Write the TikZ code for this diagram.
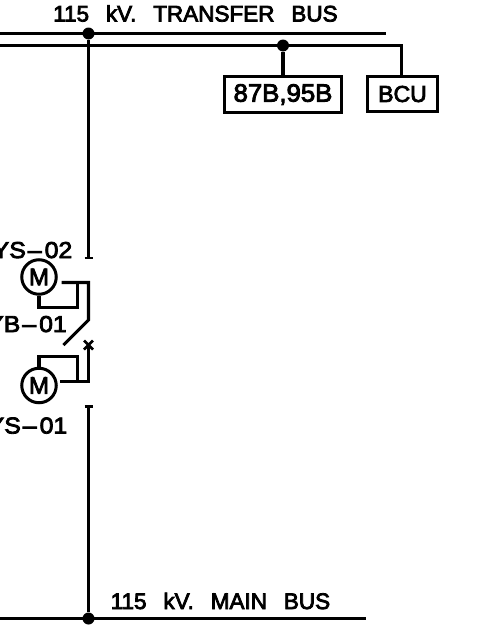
\documentclass[tikz,border=0pt]{standalone}
\usepackage{fontspec}
\setmainfont[FakeBold=3.5]{Liberation Sans}
\newfontfamily\busfont[WordSpace=2.7,FakeBold=3.5]{Liberation Sans}
\newfontfamily\tagfont[FakeStretch=1.08,FakeBold=3.5]{Liberation Sans}
\newfontfamily\boxfont[FakeStretch=1.03,FakeBold=3.5]{Liberation Sans}
\tikzset{
  wire/.style={line width=3.1pt,line cap=butt,line join=miter},
  tickln/.style={line width=2.4pt},
  dotn/.style={circle,fill=black,inner sep=0pt,minimum size=12pt},
  lbl/.style={inner sep=0pt,font=\tagfont\fontsize{23}{23}\selectfont},
  buslbl/.style={inner sep=0pt,font=\busfont\fontsize{22.5}{23}\selectfont},
  box/.style={draw,line width=3pt,inner sep=0pt},
  motor/.style={draw,circle,line width=3pt,minimum size=34.5pt,inner sep=0pt,font=\fontsize{24}{24}\selectfont}
}
\begin{document}
\begin{tikzpicture}[x=1pt,y=-1pt]
\useasboundingbox (0,0) rectangle (480,640);
\clip (0,0) rectangle (480,640);
\fill[white] (0,0) rectangle (480,640);
% free ends
\coordinate (t0) at (0,33.5); \coordinate (t1) at (386,33.5);
\coordinate (s0) at (0,45.5); \coordinate (s1) at (401.5,45.5);
\coordinate (m0) at (0,618.5); \coordinate (m1) at (366,618.5);
\coordinate (v1) at (88.5,258); \coordinate (v2) at (88.5,406.5);
\coordinate (cr) at (88.5,345);
\coordinate (pivot) at (88.5,320); \coordinate (blade) at (63.5,345);
% nodes
\node[dotn] (d1) at (88.5,33.5) {};
\node[dotn] (d2) at (283,45.5) {};
\node[dotn] (d3) at (88.5,618.5) {};
\node[box,minimum width=117pt,minimum height=36pt,font=\boxfont\fontsize{25}{25}\selectfont] (b1) at (283,94.5) {\raisebox{2pt}{87B,95B}};
\node[box,minimum width=70pt,minimum height=35pt,font=\fontsize{23}{23}\selectfont] (b2) at (402.5,94) {\raisebox{-1pt}{BCU}};
\node[motor] (m1a) at (39,277) {M};
\node[motor] (m2a) at (39,385.5) {M};
% buses
\draw[wire] (t0) -- (t1);
\draw[wire] (s0) -- (s1) -- (s1 |- b2.north);
\draw[wire] (m0) -- (m1);
\draw[wire] (d2) -- (d2 |- b1.north);
\draw[wire] (d1) -- (v1);
\draw[wire] (d3) -- (v2);
\draw[tickln] ([xshift=-4pt]v1) -- ([xshift=4pt]v1);
\draw[tickln] ([xshift=-4pt]v2) -- ([xshift=4pt]v2);
% motor wiring
\draw[wire] (61.5,282.5) -- (88.5,282.5) -- (pivot) -- (blade);
\draw[wire] (77.5,282.5) -- (77.5,307.5) -- (m1a.south |- 0,307.5) -- (m1a.south);
\draw[wire] (60,381.5) -- (88.5,381.5) -- (cr);
\draw[wire] (77.5,381.5) -- (77.5,356.5) -- (m2a.north |- 0,356.5) -- (m2a.north);
\draw[line width=2.6pt] (84,340.5) -- (93,349.5) (84,349.5) -- (93,340.5);
% labels
\node[buslbl,anchor=base west] (l1) at (53,21.5) {115 kV. TRANSFER BUS};
\node[buslbl,anchor=base west] (l2) at (110.5,609) {115 kV. MAIN BUS};
\node[lbl,anchor=base east] (l3) at (72.5,258) {YS\kern2pt–\kern3pt02};
\node[lbl,anchor=base east] (l4) at (67,332) {YB\kern2pt–\kern3pt01};
\node[lbl,anchor=base east] (l5) at (67.5,433.5) {YS\kern2pt–\kern3pt01};
\end{tikzpicture}
\end{document}
